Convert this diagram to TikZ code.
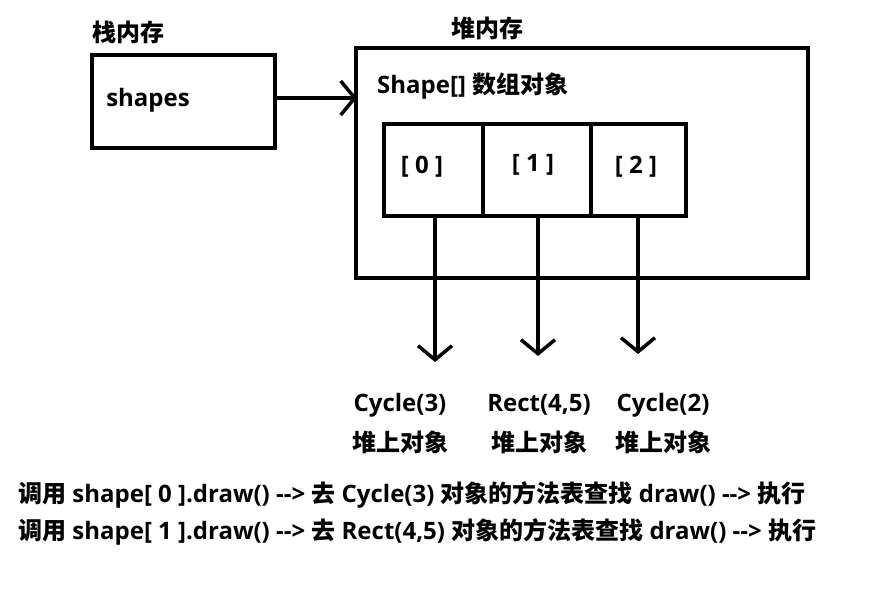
\documentclass[tikz,border=0pt]{standalone}
\usepackage{fontspec}
\setmainfont{Open Sans}
\newfontfamily\cjk{Noto Sans CJK SC Bold}
\newcommand\zh[1]{{\cjk #1}}
\usetikzlibrary{arrows.meta}
\begin{document}
\begin{tikzpicture}[x=1pt,y=-1pt,
  box/.style={draw,line width=3.5pt},
  t/.style={font=\bfseries\fontsize{24}{28}\selectfont,inner sep=0},
  arr/.style={line width=3.5pt,-{Straight Barb[length=14pt,width=34pt,line width=3.5pt]}}]
\useasboundingbox (0,0) rectangle (892,589);
\node[t] (lst) at (128,32) {\zh{栈内存}};
\draw[box] (92,55) rectangle (275,148);
\coordinate (stackR) at (275,98);
\node[t] (sh) at (148,100) {shapes};
\node[t] (lheap) at (487,28) {\zh{堆内存}};
\draw[box] (356,48) rectangle (808,278);
\coordinate (heapL) at (357,98);
\node[t,anchor=west] (arrT) at (377,86) {Shape[] \zh{数组对象}};
\draw[box] (384,124) rectangle (686,216);
\draw[line width=3.5pt] (483,124) -- (483,216) (591,124) -- (591,216);
\node[t] (c0) at (422,167) {[ 0 ]};
\node[t] (c1) at (533,165) {[ 1 ]};
\node[t] (c2) at (636,167) {[ 2 ]};
\draw[arr] (stackR) -- (heapL);
\coordinate (a0) at (435,216); \coordinate (b0) at (435,362);
\coordinate (a1) at (538,216); \coordinate (b1) at (538,356);
\coordinate (a2) at (638,216); \coordinate (b2) at (638,354);
\draw[arr] (a0) -- (b0);
\draw[arr] (a1) -- (b1);
\draw[arr] (a2) -- (b2);
\node[t] (o0) at (400,405) {Cycle(3)};
\node[t] (o1) at (539,405) {Rect(4,5)};
\node[t] (o2) at (663,405) {Cycle(2)};
\node[t] (h0) at (400,442) {\zh{堆上对象}};
\node[t] (h1) at (539,442) {\zh{堆上对象}};
\node[t] (h2) at (663,442) {\zh{堆上对象}};
\node[t,anchor=west] (l1) at (18,495) {\zh{调用} shape[ 0 ].draw() {-}{-}> \zh{去} Cycle(3) \zh{对象的方法表查找} draw() {-}{-}> \zh{执行}};
\node[t,anchor=west] (l2) at (18,532) {\zh{调用} shape[ 1 ].draw() {-}{-}> \zh{去} Rect(4,5) \zh{对象的方法表查找} draw() {-}{-}> \zh{执行}};
\end{tikzpicture}
\end{document}
